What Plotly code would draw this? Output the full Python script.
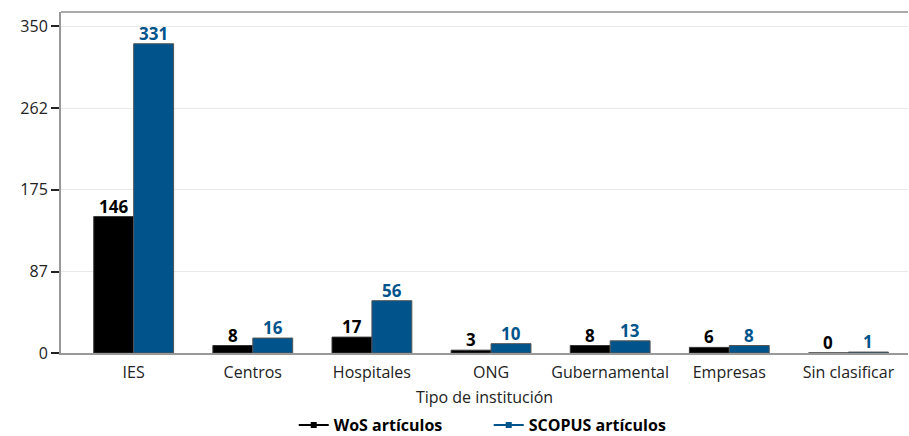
import plotly.graph_objects as go

categories = ["IES", "Centros", "Hospitales", "ONG", "Gubernamental", "Empresas", "Sin clasificar"]
wos = [146, 8, 17, 3, 8, 6, 0]
scopus = [331, 16, 56, 10, 13, 8, 1]
tick_vals = [0, 87, 175, 262, 350]

black = "#000000"
blue = "#00548c"
font = "Open Sans"

fig = go.Figure()
fig.add_trace(go.Bar(x=categories, y=wos, name="WoS artículos", marker=dict(color=black, line=dict(color="#333333", width=1)),
                     showlegend=False))
fig.add_trace(go.Bar(x=categories, y=scopus, name="SCOPUS artículos", marker=dict(color=blue, line=dict(color="#555555", width=1)),
                     showlegend=False))
fig.add_trace(go.Scatter(x=[None], y=[None], mode="lines+markers", name="WoS artículos",
                         line=dict(color=black, width=2), marker=dict(symbol="square", size=6, color=black)))
fig.add_trace(go.Scatter(x=[None], y=[None], mode="lines+markers", name="SCOPUS artículos",
                         line=dict(color=blue, width=2), marker=dict(symbol="square", size=6, color=blue)))

for c, w, s in zip(categories, wos, scopus):
    fig.add_annotation(x=c, y=w, text=str(w), showarrow=False, yanchor="bottom", xshift=-20, yshift=-3,
                       font=dict(color=black, size=17, family=font, weight="bold"))
    fig.add_annotation(x=c, y=s, text=str(s), showarrow=False, yanchor="bottom", xshift=20, yshift=-3,
                       font=dict(color=blue, size=17, family=font, weight="bold"))

fig.update_layout(
    width=909, height=436,
    margin=dict(l=61, r=1, t=12, b=83),
    plot_bgcolor="white", paper_bgcolor="white",
    barmode="group", bargap=0.33, bargroupgap=0,
    font=dict(family=font, size=15, color="#222222"),
    legend=dict(orientation="h", x=0.505, xanchor="center", yref="container", y=0.025, yanchor="middle",
                font=dict(size=16, family=font, color=black, weight="bold"),
                entrywidth=150, entrywidthmode="pixels"),
)
fig.update_xaxes(title=dict(text="Tipo de institución", standoff=18, font=dict(size=16)),
                 range=[-0.61, 6.5], showline=True, linecolor="#999999", linewidth=2,
                 ticks="", ticklabelstandoff=4, tickfont=dict(size=16), showgrid=False, automargin=False)
fig.update_yaxes(range=[0, 365], tickvals=tick_vals, ticktext=[str(v) for v in tick_vals],
                 showgrid=True, gridcolor="#e8e8e8", gridwidth=1,
                 showline=True, linecolor="#999999", linewidth=2, ticks="outside", ticklen=8, tickcolor="#222222",
                 tickwidth=1.5, tickfont=dict(size=16), zeroline=False, automargin=False)
fig.add_shape(type="line", xref="paper", yref="paper", x0=0, x1=1, y0=1, y1=1, line=dict(color="#aaaaaa", width=2))

fig.write_html("out.html", config={"displayModeBar": False}, post_script="document.body.style.margin='0';")
